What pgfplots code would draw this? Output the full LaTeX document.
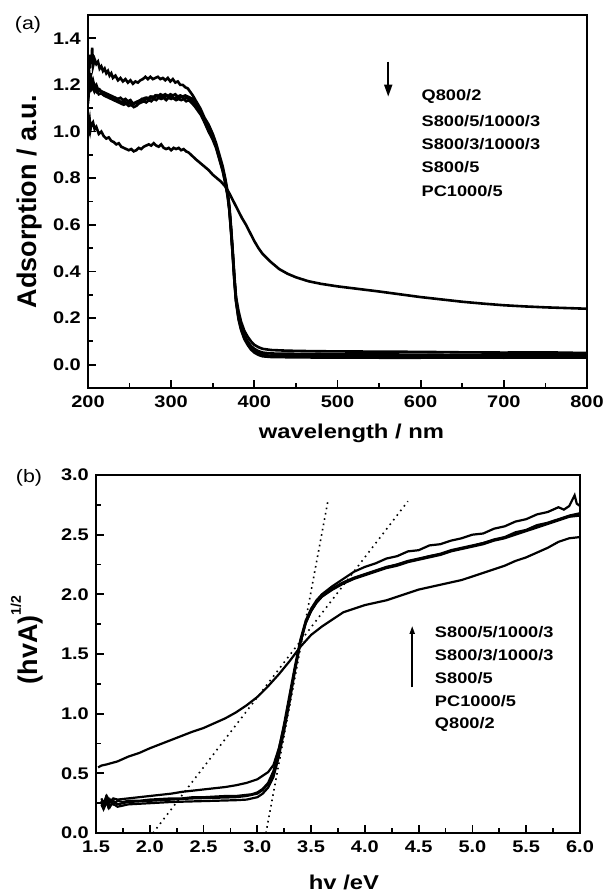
\documentclass[border=0pt]{standalone}
\usepackage{fontspec}
\setmainfont{Liberation Sans}[FakeStretch=1.19]
\newfontfamily\ylfont{Liberation Sans}
\usepackage{pgfplots}
\pgfplotsset{compat=1.18}
\usetikzlibrary{arrows.meta}
\tikzset{lt/.style={font=\fontsize{15.3}{15}\selectfont\bfseries, anchor=west, inner sep=0pt}}
\begin{document}
\begin{tikzpicture}
\useasboundingbox (0,0) rectangle (606pt,-895pt);
\pgfplotsset{
  myax/.style={
    scale only axis,
    anchor=south west,
    axis line style={line width=2.5pt},
    tick align=inside,
    xtick pos=bottom, ytick pos=left,
    major tick length=8pt, minor tick length=5pt,
    every tick/.style={line width=1.8pt, black},
    /pgf/number format/assume math mode=true,
    ticklabel style={font=\fontsize{16.8}{16}\selectfont\bfseries},
    yticklabel style={inner sep=0pt, xshift=-7pt},
    xticklabel style={inner sep=0pt, yshift=-8pt},
    xlabel style={font=\fontsize{20}{20}\selectfont\bfseries, inner sep=0pt},
    ylabel style={font=\ylfont\fontsize{27}{27}\selectfont\bfseries, inner sep=0pt},
    clip=true,
  },
}
% ---------------- panel (a)
\begin{axis}[myax,
  at={(88pt,-388pt)}, width=499pt, height=373pt,
  xmin=200, xmax=800, ymin=-0.1, ymax=1.5,
  xtick={200,300,...,800}, minor xtick={250,350,...,750},
  ytick={0,0.2,...,1.41}, minor ytick={-0.1,0.1,0.3,...,1.3},
  yticklabel style={/pgf/number format/fixed, /pgf/number format/fixed zerofill, /pgf/number format/precision=1},
  xlabel={wavelength / nm}, ylabel={Adsorption / a.u.},
  xlabel style={at={(rel axis cs:0.5,0)}, anchor=center, yshift=-45pt, xshift=14pt},
  ylabel style={at={(rel axis cs:0,0.5)}, anchor=center, yshift=58pt},
]
% top curve
\addplot[black, line width=2.6pt] coordinates {(200,1.22)(201,1.30)(202,1.27)(203,1.33)(204,1.29)(205,1.36)(206,1.28)(208,1.31)(210,1.29)(212,1.30)(214,1.27)(216,1.28)(218,1.26)(220,1.27)(222,1.25)(224,1.26)(226,1.24)(228,1.25)(230,1.23)(233,1.24)(236,1.22)(239,1.23)(242,1.215)(245,1.225)(248,1.21)(251,1.22)(254,1.205)(257,1.215)(260,1.21)(263,1.22)(266,1.225)(269,1.235)(272,1.225)(275,1.235)(278,1.225)(281,1.23)(284,1.235)(287,1.225)(290,1.23)(293,1.22)(296,1.23)(299,1.215)(302,1.225)(305,1.21)(308,1.215)(311,1.20)(314,1.20)(317,1.19)(320,1.185)(323,1.17)(326,1.155)(330,1.13)(335,1.10)(340,1.06)(345,1.03)(350,0.99)(354,0.95)(358,0.90)(362,0.85)(365,0.80)(368,0.74)(370,0.68)(372,0.59)(374,0.49)(376,0.38)(378,0.29)(381,0.23)(384,0.185)(388,0.145)(392,0.12)(396,0.10)(400,0.085)(405,0.075)(410,0.068)(420,0.063)(440,0.06)(470,0.058)(500,0.057)(550,0.056)(600,0.055)(650,0.053)(700,0.052)(750,0.053)(800,0.05)};
% middle curves
\addplot[black, line width=2.6pt] coordinates {(200,1.14)(201,1.22)(202,1.18)(203,1.25)(204,1.20)(206,1.22)(208,1.19)(210,1.20)(212,1.18)(215,1.175)(218,1.17)(221,1.165)(224,1.16)(227,1.155)(230,1.15)(233,1.145)(236,1.14)(239,1.145)(242,1.135)(245,1.14)(248,1.13)(251,1.135)(254,1.12)(257,1.125)(260,1.13)(263,1.135)(266,1.14)(269,1.145)(272,1.14)(275,1.15)(278,1.145)(281,1.155)(284,1.15)(287,1.16)(290,1.155)(293,1.16)(296,1.15)(299,1.16)(302,1.155)(305,1.16)(308,1.15)(311,1.155)(314,1.15)(317,1.155)(320,1.15)(323,1.145)(326,1.14)(330,1.12)(335,1.09)(340,1.05)(345,1.02)(350,0.98)(354,0.94)(358,0.89)(362,0.84)(365,0.79)(368,0.73)(370,0.67)(372,0.58)(374,0.48)(376,0.37)(378,0.28)(381,0.21)(384,0.165)(388,0.125)(392,0.10)(396,0.08)(400,0.068)(405,0.058)(410,0.052)(420,0.048)(440,0.047)(470,0.046)(500,0.045)(550,0.044)(600,0.043)(650,0.042)(700,0.043)(750,0.044)(800,0.042)};
\addplot[black, line width=2.6pt] coordinates {(200,1.16)(201,1.20)(202,1.23)(203,1.19)(205,1.21)(207,1.18)(209,1.19)(211,1.17)(214,1.18)(217,1.165)(220,1.16)(223,1.155)(226,1.15)(229,1.145)(232,1.14)(235,1.135)(238,1.13)(241,1.125)(244,1.13)(247,1.12)(250,1.125)(253,1.115)(256,1.12)(259,1.125)(262,1.13)(265,1.14)(268,1.135)(271,1.145)(274,1.14)(277,1.15)(280,1.145)(283,1.155)(286,1.145)(289,1.15)(292,1.145)(295,1.155)(298,1.145)(301,1.15)(304,1.14)(307,1.15)(310,1.145)(313,1.15)(316,1.14)(319,1.145)(322,1.14)(326,1.13)(330,1.11)(335,1.08)(340,1.045)(345,1.01)(350,0.975)(354,0.935)(358,0.885)(362,0.835)(365,0.785)(368,0.725)(370,0.665)(372,0.575)(374,0.475)(376,0.365)(378,0.275)(381,0.20)(384,0.155)(388,0.115)(392,0.09)(396,0.07)(400,0.057)(405,0.048)(410,0.042)(420,0.038)(440,0.037)(470,0.036)(500,0.036)(550,0.035)(600,0.035)(650,0.034)(700,0.036)(750,0.035)(800,0.034)};
\addplot[black, line width=2.6pt] coordinates {(200,1.12)(201,1.17)(202,1.21)(204,1.18)(206,1.19)(208,1.17)(210,1.18)(213,1.16)(216,1.165)(219,1.155)(222,1.15)(225,1.145)(228,1.14)(231,1.135)(234,1.13)(237,1.125)(240,1.12)(243,1.115)(246,1.12)(249,1.11)(252,1.115)(255,1.105)(258,1.11)(261,1.12)(264,1.125)(267,1.13)(270,1.125)(273,1.135)(276,1.13)(279,1.14)(282,1.135)(285,1.145)(288,1.14)(291,1.145)(294,1.135)(297,1.145)(300,1.14)(303,1.145)(306,1.135)(309,1.14)(312,1.135)(315,1.14)(318,1.13)(321,1.135)(324,1.125)(328,1.11)(332,1.09)(336,1.07)(340,1.04)(345,1.00)(350,0.965)(354,0.93)(358,0.88)(362,0.83)(365,0.78)(368,0.72)(370,0.66)(372,0.57)(374,0.47)(376,0.36)(378,0.27)(381,0.195)(384,0.15)(388,0.11)(392,0.085)(396,0.065)(400,0.052)(405,0.042)(410,0.036)(420,0.033)(440,0.032)(470,0.031)(500,0.031)(550,0.03)(600,0.03)(650,0.031)(700,0.03)(750,0.031)(800,0.03)};
% lower curve with tail
\addplot[black, line width=2.6pt] coordinates {(200,0.98)(201,1.03)(202,1.05)(203,1.01)(204,1.03)(206,1.04)(208,1.01)(210,1.02)(213,0.99)(216,1.00)(219,0.98)(222,0.97)(225,0.975)(228,0.96)(231,0.955)(234,0.945)(237,0.95)(240,0.935)(243,0.93)(246,0.925)(249,0.92)(252,0.925)(255,0.915)(258,0.92)(261,0.93)(264,0.925)(267,0.935)(270,0.94)(273,0.945)(276,0.94)(279,0.95)(282,0.94)(285,0.935)(288,0.945)(291,0.93)(294,0.925)(297,0.93)(300,0.92)(303,0.93)(306,0.925)(309,0.93)(312,0.92)(315,0.925)(318,0.915)(321,0.91)(324,0.90)(327,0.89)(330,0.88)(335,0.865)(340,0.85)(345,0.835)(350,0.815)(355,0.80)(360,0.785)(365,0.765)(370,0.735)(375,0.70)(380,0.665)(385,0.63)(390,0.60)(395,0.565)(400,0.53)(405,0.50)(410,0.475)(420,0.44)(430,0.41)(440,0.39)(450,0.375)(465,0.358)(480,0.347)(500,0.336)(525,0.325)(550,0.314)(575,0.302)(600,0.29)(625,0.28)(650,0.27)(675,0.262)(700,0.255)(725,0.25)(750,0.246)(775,0.243)(800,0.24)};
% arrow
\addplot[black, line width=1.8pt, -{Triangle[width=8pt,length=12pt]}] coordinates {(561,1.30)(561,1.15)};
\node[lt] at (axis cs:601,1.151) {Q800/2};
\node[lt] at (axis cs:601,1.045) {S800/5/1000/3};
\node[lt] at (axis cs:601,0.945) {S800/3/1000/3};
\node[lt] at (axis cs:601,0.846) {S800/5};
\node[lt] at (axis cs:601,0.745) {PC1000/5};
\end{axis}
\node[font=\fontsize{18}{18}\selectfont] at (28pt,-25pt) {(a)};
% ---------------- panel (b)
\begin{axis}[myax,
  at={(96pt,-833pt)}, width=484pt, height=358pt,
  xmin=1.5, xmax=6.0, ymin=0, ymax=3.0,
  xtick={1.5,2.0,...,6.01}, minor xtick={1.75,2.25,...,5.76},
  ytick={0,0.5,...,3.01}, minor ytick={0.25,0.75,...,2.76},
  ticklabel style={/pgf/number format/fixed, /pgf/number format/fixed zerofill, /pgf/number format/precision=1},
  xlabel={hv /eV}, ylabel={(hvA)\raisebox{0.62em}{\fontsize{14}{14}\selectfont 1/2}},
  xlabel style={at={(rel axis cs:0.5,0)}, anchor=center, yshift=-49pt, xshift=6pt},
  ylabel style={at={(rel axis cs:0,0.5)}, anchor=center, yshift=69pt, xshift=14pt},
]
\addplot[black, line width=2.2pt] coordinates {(1.55,0.27)(1.57,0.22)(1.59,0.29)(1.61,0.23)(1.63,0.28)(1.66,0.24)(1.70,0.27)(1.75,0.26)(1.80,0.27)(1.9,0.27)(2.0,0.28)(2.1,0.285)(2.2,0.29)(2.3,0.29)(2.4,0.30)(2.5,0.30)(2.6,0.305)(2.7,0.31)(2.8,0.31)(2.9,0.32)(2.95,0.325)(3.0,0.34)(3.05,0.37)(3.1,0.42)(3.15,0.52)(3.2,0.70)(3.25,0.92)(3.3,1.16)(3.35,1.40)(3.4,1.62)(3.45,1.78)(3.5,1.88)(3.55,1.95)(3.6,2.00)(3.7,2.07)(3.8,2.13)(3.9,2.19)(4.0,2.23)(4.1,2.26)(4.2,2.30)(4.3,2.32)(4.4,2.36)(4.5,2.37)(4.6,2.41)(4.7,2.42)(4.8,2.45)(4.9,2.47)(5.0,2.50)(5.1,2.51)(5.2,2.55)(5.3,2.57)(5.4,2.61)(5.5,2.63)(5.6,2.67)(5.7,2.69)(5.8,2.73)(5.85,2.71)(5.9,2.74)(5.95,2.83)(5.97,2.76)(6.0,2.74)};
\addplot[black, line width=2.2pt] coordinates {(1.55,0.29)(1.57,0.25)(1.6,0.31)(1.63,0.26)(1.66,0.29)(1.7,0.28)(1.8,0.29)(1.9,0.30)(2.0,0.31)(2.1,0.32)(2.2,0.33)(2.3,0.345)(2.4,0.355)(2.5,0.365)(2.6,0.375)(2.7,0.385)(2.8,0.40)(2.9,0.42)(3.0,0.45)(3.05,0.48)(3.1,0.51)(3.15,0.57)(3.2,0.71)(3.25,0.90)(3.3,1.13)(3.35,1.38)(3.4,1.60)(3.45,1.76)(3.5,1.86)(3.55,1.93)(3.6,1.98)(3.7,2.05)(3.8,2.10)(3.9,2.14)(4.0,2.17)(4.1,2.20)(4.2,2.23)(4.3,2.25)(4.4,2.28)(4.5,2.30)(4.6,2.32)(4.7,2.34)(4.8,2.37)(4.9,2.39)(5.0,2.41)(5.1,2.43)(5.2,2.46)(5.3,2.48)(5.4,2.52)(5.5,2.54)(5.6,2.58)(5.7,2.60)(5.8,2.63)(5.9,2.66)(6.0,2.68)};
\addplot[black, line width=2.2pt] coordinates {(1.55,0.24)(1.57,0.20)(1.6,0.26)(1.62,0.21)(1.65,0.25)(1.7,0.22)(1.8,0.24)(1.9,0.245)(2.0,0.25)(2.2,0.26)(2.4,0.265)(2.6,0.27)(2.8,0.275)(2.9,0.28)(3.0,0.30)(3.05,0.33)(3.1,0.38)(3.15,0.47)(3.2,0.64)(3.25,0.86)(3.3,1.10)(3.35,1.36)(3.4,1.59)(3.45,1.76)(3.5,1.86)(3.55,1.93)(3.6,1.98)(3.7,2.04)(3.8,2.09)(3.9,2.13)(4.0,2.16)(4.1,2.19)(4.2,2.22)(4.3,2.24)(4.4,2.27)(4.5,2.29)(4.6,2.31)(4.7,2.33)(4.8,2.36)(4.9,2.38)(5.0,2.40)(5.1,2.42)(5.2,2.45)(5.3,2.47)(5.4,2.50)(5.5,2.53)(5.6,2.56)(5.7,2.59)(5.8,2.62)(5.9,2.65)(6.0,2.66)};
\addplot[black, line width=2.2pt] coordinates {(1.55,0.26)(1.57,0.21)(1.6,0.28)(1.63,0.22)(1.66,0.27)(1.7,0.24)(1.8,0.26)(1.9,0.265)(2.0,0.27)(2.2,0.28)(2.4,0.29)(2.6,0.295)(2.8,0.30)(2.9,0.31)(3.0,0.33)(3.05,0.36)(3.1,0.41)(3.15,0.50)(3.2,0.67)(3.25,0.88)(3.3,1.12)(3.35,1.37)(3.4,1.60)(3.45,1.77)(3.5,1.87)(3.55,1.94)(3.6,1.99)(3.7,2.05)(3.8,2.10)(3.9,2.135)(4.0,2.165)(4.1,2.195)(4.2,2.225)(4.3,2.25)(4.4,2.275)(4.5,2.295)(4.6,2.32)(4.7,2.335)(4.8,2.365)(4.9,2.385)(5.0,2.405)(5.1,2.43)(5.2,2.455)(5.3,2.475)(5.4,2.51)(5.5,2.535)(5.6,2.57)(5.7,2.595)(5.8,2.625)(5.9,2.655)(6.0,2.67)};
% tail curve
\addplot[black, line width=2.2pt] coordinates {(1.52,0.55)(1.55,0.565)(1.6,0.575)(1.7,0.60)(1.8,0.64)(1.9,0.67)(2.0,0.71)(2.1,0.745)(2.2,0.78)(2.3,0.815)(2.4,0.85)(2.5,0.88)(2.6,0.92)(2.7,0.96)(2.8,1.01)(2.9,1.07)(3.0,1.14)(3.1,1.23)(3.2,1.33)(3.3,1.44)(3.4,1.56)(3.45,1.61)(3.5,1.66)(3.6,1.73)(3.7,1.79)(3.8,1.85)(3.9,1.88)(4.0,1.91)(4.1,1.93)(4.2,1.95)(4.3,1.98)(4.4,2.01)(4.5,2.04)(4.6,2.06)(4.7,2.08)(4.8,2.10)(4.9,2.12)(5.0,2.15)(5.1,2.18)(5.2,2.21)(5.3,2.24)(5.4,2.28)(5.5,2.31)(5.6,2.35)(5.7,2.39)(5.8,2.44)(5.9,2.47)(6.0,2.48)};
% tangent lines
\addplot[black, line width=1.6pt, dash pattern=on 1.6pt off 3.8pt] coordinates {(3.08,0)(3.66,2.80)};
\addplot[black, line width=1.6pt, dash pattern=on 1.6pt off 4.2pt] coordinates {(2.03,0)(4.40,2.78)};
% arrow
\addplot[black, line width=1.8pt, -{Triangle[width=5pt,length=8pt]}] coordinates {(4.44,1.22)(4.44,1.735)};
\node[lt] at (axis cs:4.65,1.684) {S800/5/1000/3};
\node[lt] at (axis cs:4.65,1.488) {S800/3/1000/3};
\node[lt] at (axis cs:4.65,1.299) {S800/5};
\node[lt] at (axis cs:4.65,1.103) {PC1000/5};
\node[lt] at (axis cs:4.65,0.910) {Q800/2};
\end{axis}
\node[font=\fontsize{18}{18}\selectfont] at (29pt,-478pt) {(b)};
\end{tikzpicture}
\end{document}
